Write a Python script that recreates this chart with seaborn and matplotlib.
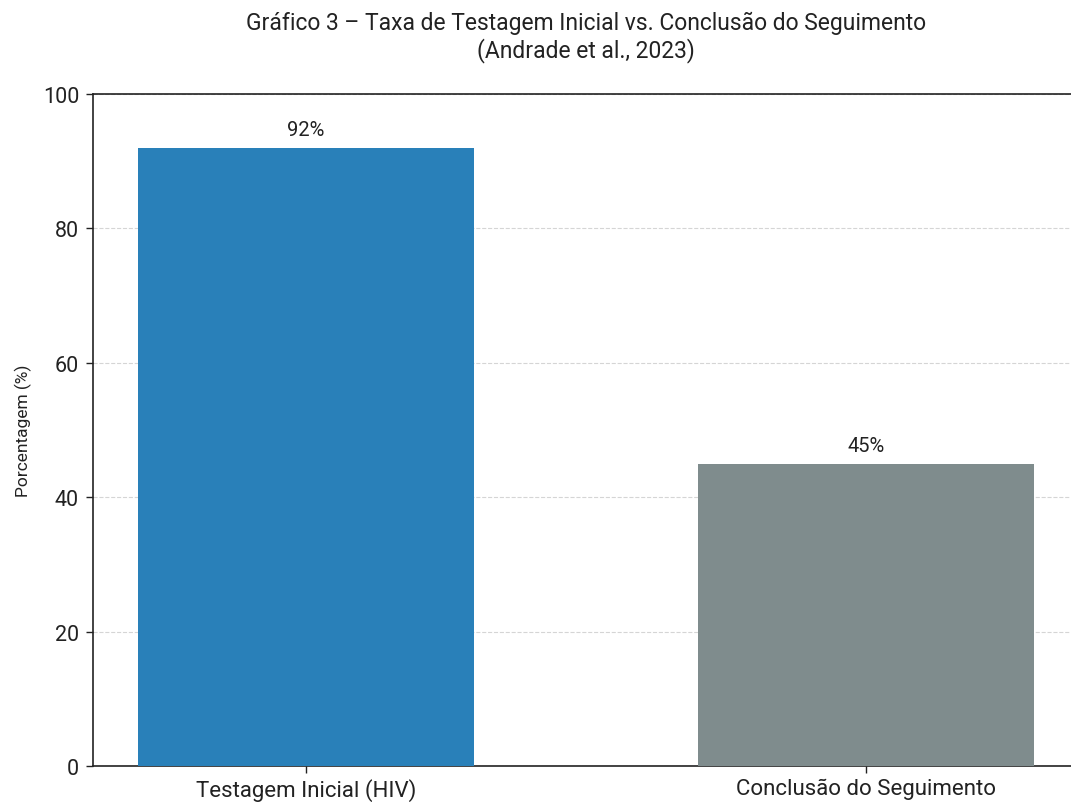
import matplotlib
matplotlib.use("Agg")
import matplotlib.pyplot as plt
import seaborn as sns

# Dados do gráfico
categorias = ["Testagem Inicial (HIV)", "Conclusão do Seguimento"]
valores = [92, 45]
cores = ["#2980b9", "#7f8c8d"]

sns.set_theme(style="white")
plt.rcParams['font.family'] = ['Roboto', 'DejaVu Sans']

fig = plt.figure(figsize=(10.71, 8.03), dpi=100)
ax = fig.add_axes([0.0868, 0.0448, 0.9207, 0.8369])

sns.barplot(x=categorias, y=valores, hue=categorias, palette=cores,
            width=0.6, saturation=1, legend=False, linewidth=0, ax=ax, zorder=3)

# Rótulos de valor acima das barras
for i, v in enumerate(valores):
    ax.text(i, v + 1.3, f"{v}%", ha="center", va="bottom", fontsize=14.5, color="#222222")

ax.set_xlim(-0.38, 1.38)
ax.set_ylim(0, 100)
ax.set_yticks([0, 20, 40, 60, 80, 100])
ax.yaxis.grid(True, linestyle="--", color="#d5d5d5", linewidth=0.8, zorder=0)
ax.set_axisbelow(True)

for s in ax.spines.values():
    s.set_visible(True)
    s.set_color("#222222")
    s.set_linewidth(1.2)

ax.tick_params(axis="both", which="both", length=5, width=1, color="#222222",
               labelcolor="#222222", bottom=True, left=True)
ax.tick_params(axis="y", labelsize=15.5, pad=5)
ax.tick_params(axis="x", labelsize=16)

ax.set_xlabel("")
ax.set_ylabel("Porcentagem (%)", fontsize=12.5, color="#222222", labelpad=8)
ax.set_title("Gráfico 3 – Taxa de Testagem Inicial vs. Conclusão do Seguimento\n(Andrade et al., 2023)",
             fontsize=16.5, color="#222222", pad=27, linespacing=1.15)

fig.savefig("out.png", dpi=100)
